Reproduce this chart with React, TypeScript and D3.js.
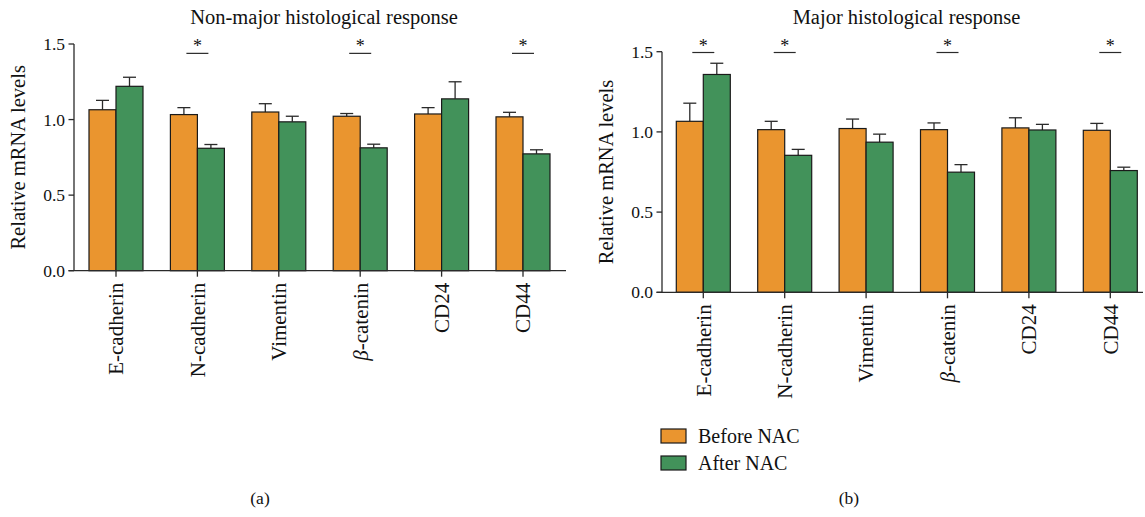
import * as React from "react";
import * as d3 from "d3";

const CATEGORIES = ["E-cadherin", "N-cadherin", "Vimentin", "β-catenin", "CD24", "CD44"];
const SERIES = ["Before NAC", "After NAC"];
const COLORS = ["#EA952F", "#42925A"];
const Y_TICKS = [0, 0.5, 1.0, 1.5];

// panel (a): non-major histological response
const NONMAJOR_BEFORE = [1.065, 1.033, 1.05, 1.022, 1.037, 1.018];
const NONMAJOR_BEFORE_ERR = [0.062, 0.046, 0.055, 0.018, 0.042, 0.03];
const NONMAJOR_AFTER = [1.22, 0.81, 0.985, 0.813, 1.137, 0.773];
const NONMAJOR_AFTER_ERR = [0.06, 0.025, 0.037, 0.024, 0.113, 0.027];
const NONMAJOR_SIG = [false, true, false, true, false, true];

// panel (b): major histological response
const MAJOR_BEFORE = [1.066, 1.014, 1.021, 1.014, 1.025, 1.01];
const MAJOR_BEFORE_ERR = [0.113, 0.052, 0.059, 0.042, 0.063, 0.043];
const MAJOR_AFTER = [1.358, 0.854, 0.936, 0.749, 1.012, 0.759];
const MAJOR_AFTER_ERR = [0.07, 0.037, 0.05, 0.047, 0.035, 0.021];
const MAJOR_SIG = [true, true, false, true, false, true];

const FONT = "'Liberation Serif', 'Times New Roman', serif";
const INK = "#2a2a2a";

type Panel = {
  title: string;
  letter: string;
  letterX: number;
  before: number[];
  beforeErr: number[];
  after: number[];
  afterErr: number[];
  sig: boolean[];
  axisX: number;
  axisEnd: number;
  bandStart: number;
  y0: number;
  yTop: number;
  starY: number;
};

const PANELS: Panel[] = [
  {
    title: "Non-major histological response",
    letter: "(a)",
    letterX: 260,
    before: NONMAJOR_BEFORE,
    beforeErr: NONMAJOR_BEFORE_ERR,
    after: NONMAJOR_AFTER,
    afterErr: NONMAJOR_AFTER_ERR,
    sig: NONMAJOR_SIG,
    axisX: 74,
    axisEnd: 566,
    bandStart: 75.3,
    y0: 270.7,
    yTop: 44,
    starY: 1.438,
  },
  {
    title: "Major histological response",
    letter: "(b)",
    letterX: 849,
    before: MAJOR_BEFORE,
    beforeErr: MAJOR_BEFORE_ERR,
    after: MAJOR_AFTER,
    afterErr: MAJOR_AFTER_ERR,
    sig: MAJOR_SIG,
    axisX: 662,
    axisEnd: 1143,
    bandStart: 662.6,
    y0: 292.3,
    yTop: 51.7,
    starY: 1.495,
  },
];

export default function App() {
  const ref = React.useRef<SVGSVGElement | null>(null);

  React.useEffect(() => {
    if (!ref.current) return;
    const svg = d3.select(ref.current);
    svg.selectAll("*").remove();

    const step = 81.4;
    const barW = 27;

    PANELS.forEach((p) => {
      const x = d3
        .scaleBand<string>()
        .domain(CATEGORIES)
        .range([p.bandStart, p.bandStart + step * CATEGORIES.length]);
      const y = d3.scaleLinear().domain([0, 1.5]).range([p.y0, p.yTop]);
      const g = svg.append("g");
      const cx = (c: string) => (x(c) ?? 0) + x.bandwidth() / 2;

      // title
      g.append("text")
        .attr("x", (p.axisX + p.axisEnd) / 2 + 4)
        .attr("y", 24)
        .attr("text-anchor", "middle")
        .attr("font-size", 20.5)
        .attr("fill", "#111")
        .text(p.title);

      // y axis
      g.append("line")
        .attr("x1", p.axisX).attr("x2", p.axisX)
        .attr("y1", y(1.5)).attr("y2", y(0))
        .attr("stroke", INK).attr("stroke-width", 1.3);
      Y_TICKS.forEach((t) => {
        g.append("line")
          .attr("x1", p.axisX - 5.5).attr("x2", p.axisX)
          .attr("y1", y(t)).attr("y2", y(t))
          .attr("stroke", INK).attr("stroke-width", 1.3);
        g.append("text")
          .attr("x", p.axisX - 9)
          .attr("y", y(t))
          .attr("dy", "0.35em")
          .attr("text-anchor", "end")
          .attr("font-size", 17.5)
          .attr("fill", "#111")
          .text(d3.format(".1f")(t));
      });

      // y label
      const lx = p.axisX - 56;
      const ly = (y(0) + y(1.5)) / 2;
      g.append("text")
        .attr("transform", `translate(${lx},${ly}) rotate(-90)`)
        .attr("text-anchor", "middle")
        .attr("dy", "0.35em")
        .attr("font-size", 20.5)
        .attr("fill", "#111")
        .text("Relative mRNA levels");

      // bars
      CATEGORIES.forEach((c, i) => {
        const c0 = cx(c);
        const vals = [p.before[i], p.after[i]];
        const errs = [p.beforeErr[i], p.afterErr[i]];
        vals.forEach((v, s) => {
          const bx = c0 - barW + s * barW;
          const top = y(v);
          const et = y(v + errs[s]);
          const mid = bx + barW / 2;
          g.append("line")
            .attr("x1", mid).attr("x2", mid)
            .attr("y1", top).attr("y2", et)
            .attr("stroke", INK).attr("stroke-width", 1.3);
          g.append("line")
            .attr("x1", mid - 6.5).attr("x2", mid + 6.5)
            .attr("y1", et).attr("y2", et)
            .attr("stroke", INK).attr("stroke-width", 1.3);
          g.append("rect")
            .attr("x", bx)
            .attr("y", top)
            .attr("width", barW)
            .attr("height", y(0) - top)
            .attr("fill", COLORS[s])
            .attr("stroke", "#1a1a1a")
            .attr("stroke-width", 1.2);
        });

        if (p.sig[i]) {
          const sy = y(p.starY);
          g.append("line")
            .attr("x1", c0 - 11).attr("x2", c0 + 11)
            .attr("y1", sy).attr("y2", sy)
            .attr("stroke", INK).attr("stroke-width", 1.2);
          g.append("text")
            .attr("x", c0)
            .attr("y", sy - 1)
            .attr("text-anchor", "middle")
            .attr("font-size", 18)
            .attr("fill", "#111")
            .text("*");
        }
      });

      // x axis
      g.append("line")
        .attr("x1", p.axisX - 5.5).attr("x2", p.axisEnd)
        .attr("y1", y(0)).attr("y2", y(0))
        .attr("stroke", INK).attr("stroke-width", 1.3);
      CATEGORIES.forEach((c) => {
        const c0 = cx(c);
        g.append("line")
          .attr("x1", c0).attr("x2", c0)
          .attr("y1", y(0)).attr("y2", y(0) + 6)
          .attr("stroke", INK).attr("stroke-width", 1.3);
        const t = g.append("text")
          .attr("transform", `translate(${c0},${y(0) + 12}) rotate(-90)`)
          .attr("text-anchor", "end")
          .attr("dy", "0.35em")
          .attr("font-size", 21)
          .attr("fill", "#111");
        if (c.startsWith("β")) {
          t.append("tspan").attr("font-style", "italic").text("β");
          t.append("tspan").text(c.slice(1));
        } else {
          t.text(c);
        }
      });

      // panel letter
      g.append("text")
        .attr("x", p.letterX)
        .attr("y", 504)
        .attr("text-anchor", "middle")
        .attr("font-size", 17.5)
        .attr("fill", "#111")
        .text(p.letter);
    });

    // legend
    SERIES.forEach((s, i) => {
      const ly = 429 + i * 27;
      svg.append("rect")
        .attr("x", 661).attr("y", ly)
        .attr("width", 25).attr("height", 14)
        .attr("fill", COLORS[i])
        .attr("stroke", "#1a1a1a").attr("stroke-width", 1.2);
      svg.append("text")
        .attr("x", 698).attr("y", ly + 7)
        .attr("dy", "0.35em")
        .attr("font-size", 20)
        .attr("fill", "#111")
        .text(s);
    });
  }, []);

  return (
    <svg
      ref={ref}
      width={1145}
      height={517}
      style={{ position: "absolute", left: 0, top: 0, background: "#fff", fontFamily: FONT }}
    />
  );
}
